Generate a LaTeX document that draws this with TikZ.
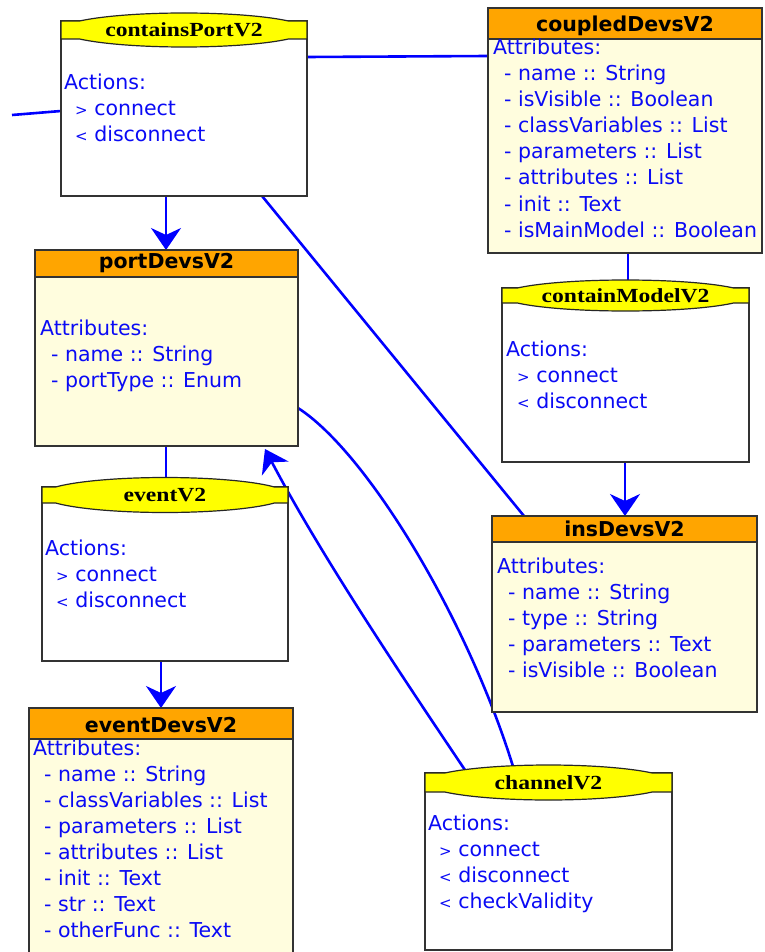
\documentclass[tikz,border=0pt]{standalone}
\usepackage{fontspec}
\usepackage{graphicx}
\usetikzlibrary{arrows.meta,backgrounds}
\newfontfamily\diagsans{DejaVu Sans}
\newfontfamily\diagserif{Liberation Serif}
\definecolor{linkblue}{RGB}{0,0,255}
\definecolor{textblue}{RGB}{10,10,245}
\definecolor{frame}{RGB}{51,51,51}
\definecolor{headorange}{RGB}{255,165,0}
\definecolor{headyellow}{RGB}{255,255,0}
\definecolor{cream}{RGB}{255,253,222}

% indentation and the small action markers
\newcommand\ind{\hspace*{11pt}}
\newcommand\actgt{{\fontsize{15}{15}\selectfont >}}
\newcommand\actlt{{\fontsize{15}{15}\selectfont <}}

% yellow title band with an elliptic bulge: x, top, width, band height, bulge half-height
\newcommand\bulgehead[5]{%
  \pgfmathsetmacro\bhw{#3/2}%
  \pgfmathsetmacro\bcx{#1+#3/2}%
  \pgfmathsetmacro\bcy{#2+#4/2}%
  \pgfmathsetmacro\bang{asin((#4/2)/#5)}%
  \pgfmathsetmacro\bdx{\bhw*cos(\bang)}%
  \pgfmathsetmacro\bend{180-\bang}%
  \path[yellowhead] (#1,#2) -- (\bcx-\bdx,#2)
    -- plot[domain=\bang:\bend, samples=60] ({\bcx-\bhw*cos(\x)},{\bcy-#5*sin(\x)})
    -- (#1+#3,#2) -- (#1+#3,#2+#4) -- (\bcx+\bdx,#2+#4)
    -- plot[domain=\bang:\bend, samples=60] ({\bcx+\bhw*cos(\x)},{\bcy+#5*sin(\x)})
    -- (#1,#2+#4) -- cycle;}

% body text lines, 26 units apart: name prefix, x, first baseline, lines
\newcommand\bodylines[4]{%
  \foreach \bodyline [count=\bodyidx] in {#4}
    \node[bodytext] (#1-\bodyidx) at (#2,{#3+26*(\bodyidx-1)}) {\bodyline};}

\begin{document}
\begin{tikzpicture}[x=1pt,y=-1pt,
  classbody/.style={draw=frame, line width=1.6pt, fill=cream, inner sep=0pt, outer sep=0pt, anchor=north west},
  actbody/.style={draw=frame, line width=1.6pt, fill=white, inner sep=0pt, outer sep=0pt, anchor=north west},
  orangehead/.style={draw=frame, line width=1.6pt, fill=headorange},
  yellowhead/.style={draw=black!85, line width=1.2pt, fill=headyellow, line join=round},
  classtitle/.style={font=\diagsans\bfseries\fontsize{20.5}{24}\selectfont, text=black, inner sep=0pt, anchor=base},
  acttitle/.style={font=\diagserif\bfseries\fontsize{20}{24}\selectfont, text=black, inner sep=0pt, anchor=base},
  bodytext/.style={font=\diagsans\fontsize{20.5}{26}\selectfont, text=textblue, inner sep=0pt, anchor=base west},
  link/.style={draw=linkblue, line width=2.6pt},
  linkarrow/.style={link, -{Stealth[length=22pt,width=30pt,inset=7pt]}}
]
\path[use as bounding box] (0,0) rectangle (764,952);
\clip (0,0) rectangle (764,952);

% containsPortV2
\node[actbody, minimum width=246pt, minimum height=175pt] (cp) at (61,21) {};
\bulgehead{61}{21}{246}{18}{17}
\node[acttitle] (cp-title) at (184,36.5) {\scalebox{1.18}[1]{containsPortV2}};
\bodylines{cp}{64}{90}{Actions:,\ind\actgt\ connect,\ind\actlt\ disconnect}

% coupledDevsV2
\node[classbody, minimum width=274pt, minimum height=245pt] (cd) at (488,8) {};
\path[orangehead] (cd.north west) rectangle ([yshift=-31pt]cd.north east);
\node[classtitle] (cd-title) at ([yshift=-24pt]cd.north) {coupledDevsV2};
\bodylines{cd}{493}{55}{Attributes:,\ind- name :: String,\ind- isVisible :: Boolean,\ind- classVariables :: List,\ind- parameters :: List,\ind- attributes :: List,\ind- init :: Text,\ind- isMainModel :: Boolean}

% portDevsV2
\node[classbody, minimum width=263pt, minimum height=196pt] (pd) at (35,250) {};
\path[orangehead] (pd.north west) rectangle ([yshift=-27pt]pd.north east);
\node[classtitle] (pd-title) at ([yshift=-18pt]pd.north) {portDevsV2};
\bodylines{pd}{40}{335}{Attributes:,\ind- name :: String,\ind- portType :: Enum}

% containModelV2
\node[actbody, minimum width=247pt, minimum height=174pt] (cm) at (502,288) {};
\bulgehead{502}{288}{247}{15}{15.5}
\node[acttitle] (cm-title) at (625.5,302) {\scalebox{1.18}[1]{containModelV2}};
\bodylines{cm}{506}{356}{Actions:,\ind\actgt\ connect,\ind\actlt\ disconnect}

% insDevsV2
\node[classbody, minimum width=265pt, minimum height=196pt] (ins) at (492,516) {};
\path[orangehead] (ins.north west) rectangle ([yshift=-26pt]ins.north east);
\node[classtitle] (ins-title) at ([yshift=-20pt]ins.north) {insDevsV2};
\bodylines{ins}{497}{573}{Attributes:,\ind- name :: String,\ind- type :: String,\ind- parameters :: Text,\ind- isVisible :: Boolean}

% eventV2
\node[actbody, minimum width=246pt, minimum height=174pt] (ev) at (42,487) {};
\bulgehead{42}{487}{246}{16}{17.5}
\node[acttitle] (ev-title) at (165,501.5) {\scalebox{1.18}[1]{eventV2}};
\bodylines{ev}{45}{555}{Actions:,\ind\actgt\ connect,\ind\actlt\ disconnect}

% eventDevsV2
\node[classbody, minimum width=264pt, minimum height=260pt] (ed) at (29,708) {};
\path[orangehead] (ed.north west) rectangle ([yshift=-31pt]ed.north east);
\node[classtitle] (ed-title) at ([yshift=-24pt]ed.north) {eventDevsV2};
\bodylines{ed}{33}{755}{Attributes:,\ind- name :: String,\ind- classVariables :: List,\ind- parameters :: List,\ind- attributes :: List,\ind- init :: Text,\ind- str :: Text,\ind- otherFunc :: Text}

% channelV2
\node[actbody, minimum width=247pt, minimum height=177pt] (ch) at (425,773) {};
\bulgehead{425}{773}{247}{19}{17.5}
\node[acttitle] (ch-title) at (548.5,789) {\scalebox{1.18}[1]{channelV2}};
\bodylines{ch}{428}{830}{Actions:,\ind\actgt\ connect,\ind\actlt\ disconnect,\ind\actlt\ checkValidity}

% connectors, kept behind the boxes
\begin{pgfonlayer}{background}
  \coordinate (lft) at (12,115);
  \draw[link] (lft) -- ([yshift=-90pt]cp.north west);
  \draw[link] ([yshift=-36pt]cp.north east) -- ([yshift=-48pt]cd.north west);
  \draw[linkarrow] ([xshift=105pt]cp.south west) -- ([xshift=131pt]pd.north west);
  \draw[link] ([xshift=201pt]cp.south west) -- ([xshift=32pt]ins.north west);
  \draw[link] ([xshift=140pt]cd.south west) -- ([xshift=126pt]cm.north west);
  \draw[linkarrow] ([xshift=123pt]cm.south west) -- ([xshift=133pt]ins.north west);
  \draw[link] ([xshift=131pt]pd.south west) -- ([xshift=124pt]ev.north west);
  \draw[linkarrow] ([xshift=119pt]ev.south west) -- ([xshift=132pt]ed.north west);
  \draw[link] ([yshift=-158pt]pd.north east) .. controls +(70,45) and +(-45,-150) .. ([xshift=90pt]ch.north west);
  \draw[linkarrow] ([xshift=42pt]ch.north west) .. controls +(-74,-110) and +(53,101) .. ([xshift=-33pt,yshift=-3pt]pd.south east);
\end{pgfonlayer}
\end{tikzpicture}
\end{document}
